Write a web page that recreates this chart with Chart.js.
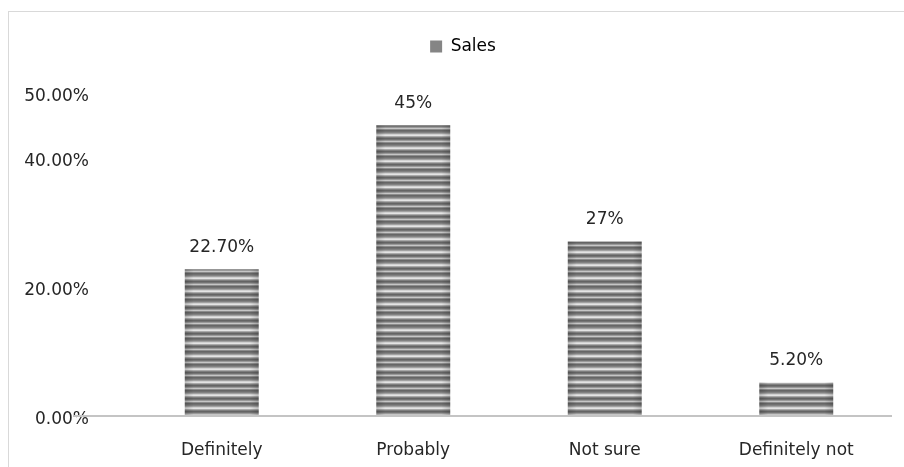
<!DOCTYPE html>
<html>
<head>
<meta charset="utf-8">
<script src="https://cdn.jsdelivr.net/npm/chart.js@4/dist/chart.umd.min.js"></script>
<style>
  html, body { margin: 0; padding: 0; background: #fff; }
  #wrap { width: 904px; height: 467px; }
</style>
</head>
<body>
<div id="wrap"><canvas id="myChart" width="904" height="467"></canvas></div>
<script>
// Global font settings
Chart.defaults.font.family = '"DejaVu Sans", Verdana, sans-serif';
Chart.defaults.font.size = 17;
Chart.defaults.color = '#262626';

// Data
const categories = ['Definitely', 'Probably', 'Not sure', 'Definitely not'];
const salesValues = [22.7, 45, 27, 5.2];
const valueLabels = ['22.70%', '45%', '27%', '5.20%'];
const yTicks = [0, 20, 40, 50];

// Striped grey fill like the reference bars
function makeStripes() {
    const shades = ['#666666', '#707070', '#828282', '#a2a2a2', '#d2d2d2', '#e4e4e4',
                    '#aaaaaa', '#7e7e7e', '#646464', '#747474', '#9a9a9a', '#c6c6c6', '#8c8c8c'];
    const tile = document.createElement('canvas');
    tile.width = 4;
    tile.height = shades.length;
    const tctx = tile.getContext('2d');
    shades.forEach((c, i) => {
        tctx.fillStyle = c;
        tctx.fillRect(0, i, 4, 1);
    });
    return document.getElementById('myChart').getContext('2d').createPattern(tile, 'repeat');
}
const stripes = makeStripes();

// Outer frame, bar edge shading, x axis line and value labels
const decorations = {
    id: 'decorations',
    afterInit(chart) {
        const legend = chart.legend;
        // fixed legend block height, so the plot starts where the reference does
        const fit = legend.fit;
        legend.fit = function () {
            fit.call(this);
            if (this.options.display) this.height = 65;
        };
        // legend sits a little right of the canvas centre
        const draw = legend.draw;
        legend.draw = function () {
            this.ctx.save();
            this.ctx.translate(13, 0);
            draw.call(this);
            this.ctx.restore();
        };
    },
    beforeDraw(chart) {
        const ctx = chart.ctx;
        ctx.save();
        ctx.strokeStyle = '#d9d9d9';
        ctx.lineWidth = 1;
        ctx.strokeRect(8.5, 11.5, chart.width + 20, chart.height + 20);
        ctx.restore();
    },
    afterDatasetsDraw(chart) {
        const ctx = chart.ctx;
        const y0 = chart.scales.y.getPixelForValue(0);
        const bars = chart.getDatasetMeta(0).data;
        ctx.save();

        // darker left/right edges on each bar
        bars.forEach((bar) => {
            const left = bar.x - bar.width / 2;
            const g = ctx.createLinearGradient(left, 0, left + bar.width, 0);
            g.addColorStop(0, 'rgba(0,0,0,0.18)');
            g.addColorStop(0.12, 'rgba(0,0,0,0)');
            g.addColorStop(0.88, 'rgba(0,0,0,0)');
            g.addColorStop(1, 'rgba(0,0,0,0.18)');
            ctx.fillStyle = g;
            ctx.fillRect(left, bar.y, bar.width, bar.base - bar.y);
        });

        ctx.strokeStyle = '#c4c4c4';
        ctx.lineWidth = 2;
        ctx.beginPath();
        ctx.moveTo(chart.chartArea.left - 53, y0);
        ctx.lineTo(chart.chartArea.right, y0);
        ctx.stroke();

        ctx.fillStyle = '#262626';
        ctx.font = '17px "DejaVu Sans", Verdana, sans-serif';
        ctx.textAlign = 'center';
        ctx.textBaseline = 'middle';
        bars.forEach((bar, i) => {
            ctx.fillText(valueLabels[i], bar.x, bar.y - 22);
        });
        ctx.restore();
    }
};

new Chart(document.getElementById('myChart'), {
    type: 'bar',
    data: {
        labels: categories,
        datasets: [{
            label: 'Sales',
            data: salesValues,
            backgroundColor: stripes,
            borderWidth: 0,
            barPercentage: 0.386,
            categoryPercentage: 1
        }]
    },
    options: {
        responsive: false,
        animation: false,
        layout: {
            padding: { top: 28, left: 8, right: 12, bottom: 0 }
        },
        scales: {
            x: {
                grid: { display: false, drawTicks: false },
                border: { display: false },
                afterFit: (scale) => {
                    scale.height = 51;
                },
                ticks: { padding: 24, color: '#262626' }
            },
            y: {
                min: 0,
                max: 50,
                grid: { display: false, drawTicks: false },
                border: { display: false },
                afterBuildTicks: (scale) => {
                    scale.ticks = yTicks.map(v => ({ value: v }));
                },
                afterFit: (scale) => {
                    scale.width = 118;
                },
                ticks: {
                    padding: 37,
                    labelOffset: 4,
                    color: '#262626',
                    callback: (v) => v.toFixed(2) + '%'
                }
            }
        },
        plugins: {
            legend: {
                position: 'top',
                labels: {
                    boxWidth: 12,
                    boxHeight: 12,
                    padding: 10,
                    color: '#262626',
                    generateLabels: (chart) => [{
                        text: 'Sales',
                        fillStyle: '#858585',
                        strokeStyle: '#858585',
                        lineWidth: 0,
                        datasetIndex: 0
                    }]
                }
            },
            tooltip: { enabled: false }
        }
    },
    plugins: [decorations]
});
</script>
</body>
</html>
